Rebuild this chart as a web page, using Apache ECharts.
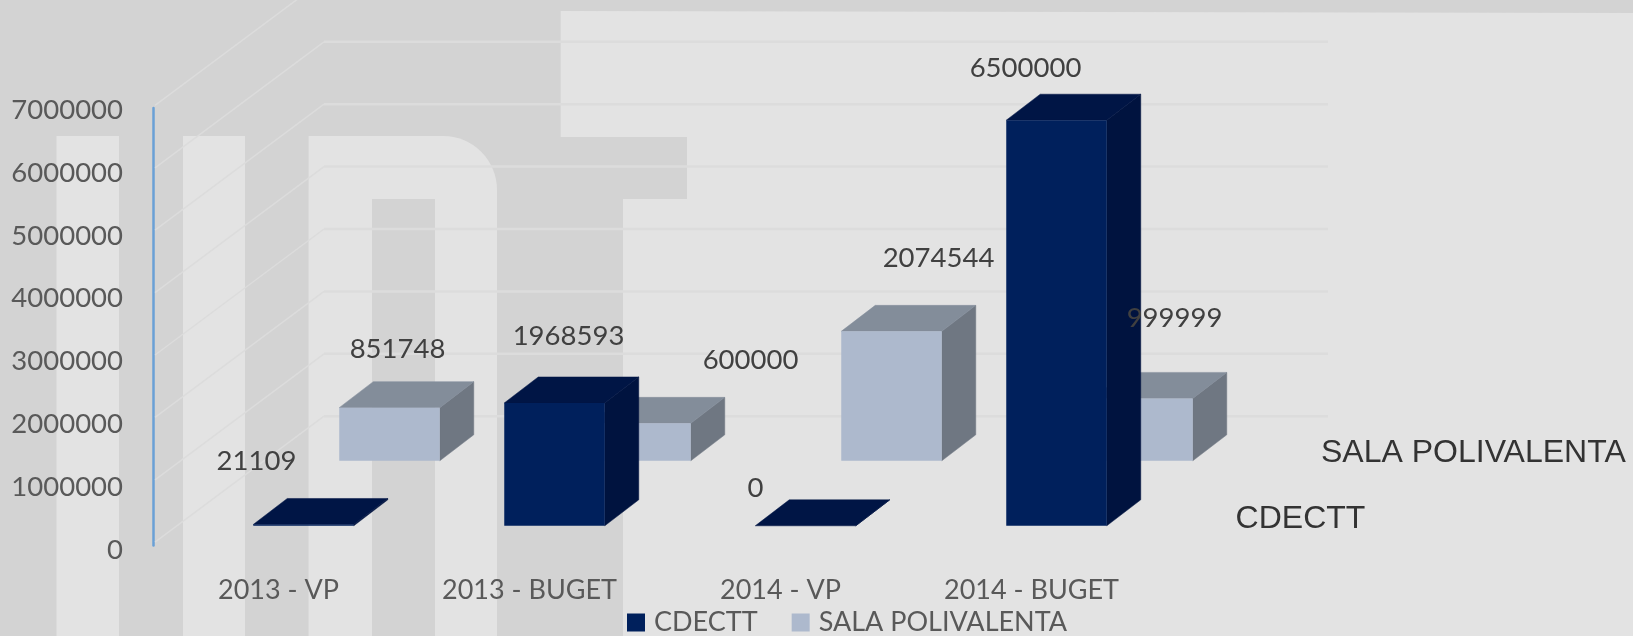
<!DOCTYPE html>
<html><head><meta charset="utf-8">
<style>html,body{margin:0;padding:0;background:#d3d3d3}#c{width:1633px;height:636px}</style>
<script src="https://cdn.jsdelivr.net/npm/echarts@6/dist/echarts.min.js"></script>
</head><body><div id="c"></div>
<script>
var categories = ['2013 - VP', '2013 - BUGET', '2014 - VP', '2014 - BUGET'];
var cdecttValues = [21109, 1968593, 0, 6500000];
var salaValues = [851748, 600000, 2074544, 999999];
var wallTicks = [1000000, 2000000, 3000000, 4000000, 5000000, 6000000, 7000000, 8000000];
var seriesNames = ['CDECTT', 'SALA POLIVALENTA'];

// Layout constants for the pseudo-3D projection (pixels)
var barW = 100.5, depthX = 34, depthY = 26;
var row = [{dx: 25, dy: 0}, {dx: 111, dy: -65}];
var pal = [
  {front: '#00205c', side: '#00133f', top: '#001545'},
  {front: '#adb9cd', side: '#6f7782', top: '#838d9a'}
];
var labelNudge = [
  [[-47, -63], [14, -67], [-50, -38], [-31, -52]],
  [[8, -59], [110, -63], [47, -73], [32, -80]]
];
var font = 'Lato, "Open Sans", sans-serif';

function poly(points, fill) {
  return {type: 'polygon', shape: {points: points}, style: {fill: fill, stroke: fill, lineWidth: 0.5}};
}
function barRenderer(r) {
  return function (params, api) {
    var cat = api.value(0), top = api.coord([cat, api.value(1)]), base = api.coord([cat, 0]);
    var x0 = base[0] + row[r].dx - barW / 2, x1 = x0 + barW;
    var yb = base[1] + row[r].dy, yt = top[1] + row[r].dy;
    var p = pal[r], kids = [];
    kids.push(poly([[x1, yb], [x1 + depthX, yb - depthY], [x1 + depthX, yt - depthY], [x1, yt]], p.side));
    kids.push(poly([[x0, yt], [x1, yt], [x1 + depthX, yt - depthY], [x0 + depthX, yt - depthY]], p.top));
    if (yb - yt > 0.5) kids.push({type: 'rect', shape: {x: x0, y: yt, width: barW, height: yb - yt}, style: {fill: p.front}});
    return {type: 'group', children: kids};
  };
}
function labelRenderer(params, api) {
  var cat = api.value(0), r = api.value(2), c = api.coord([cat, api.value(1)]);
  var n = labelNudge[r][cat];
  return {type: 'text', style: {
    text: String(api.value(1)), x: c[0] + row[r].dx + n[0], y: c[1] + row[r].dy + n[1],
    fill: '#404040', font: '27.5px ' + font, align: 'center', verticalAlign: 'middle'
  }};
}
function wallRenderer(params, api) {
  var c = api.coord([0, api.value(0)]);
  var yb = c[1] - 47.2;
  return {type: 'group', children: [
    {type: 'line', shape: {x1: 155, y1: yb + 126, x2: 324, y2: yb}, style: {stroke: '#dcdcdc', lineWidth: 1.5}},
    {type: 'line', shape: {x1: 324, y1: yb, x2: 1328, y2: yb}, style: {stroke: '#dcdcdc', lineWidth: 2.5}}
  ]};
}
var labelData = [];
cdecttValues.forEach(function (v, i) { labelData.push([i, v, 0]); });
salaValues.forEach(function (v, i) { labelData.push([i, v, 1]); });

var light = '#e3e3e3', gray = '#d3d3d3';
function rect(x, y, w, h, fill, r) {
  return {type: 'rect', z: 0, silent: true, shape: {x: x, y: y, width: w, height: h, r: r || 0}, style: {fill: fill}};
}
var chart = echarts.init(document.getElementById('c'), null, {renderer: 'canvas'});
chart.setOption({
  animation: false,
  backgroundColor: gray,
  graphic: {elements: [
    rect(56.5, 136, 62.5, 500, light),
    rect(183, 136, 62, 500, light),
    rect(308.6, 136, 188.4, 500, light, [0, 54, 0, 0]),
    rect(372, 199, 63, 437, gray),
    {type: 'polygon', z: 0, silent: true, shape: {points: [[560.7, 11], [1633, 13], [1633, 636], [623, 636], [623, 199], [687, 199], [687, 137], [560.7, 137]]}, style: {fill: light}},
    {type: 'text', z: 10, silent: true, style: {text: seriesNames[1], x: 1321, y: 453, fill: '#333333', font: '32px "Liberation Sans", Arial, sans-serif', verticalAlign: 'middle'}},
    {type: 'text', z: 10, silent: true, style: {text: seriesNames[0], x: 1235.6, y: 519, fill: '#333333', font: '32px "Liberation Sans", Arial, sans-serif', verticalAlign: 'middle'}}
  ]},
  legend: {
    data: seriesNames, left: 627, top: 609, padding: 0, icon: 'rect', itemWidth: 18, itemHeight: 18, itemGap: 34,
    textStyle: {color: '#595959', fontFamily: font, fontSize: 27, padding: [0, 0, 0, 4]}
  },
  grid: [
    {left: 153, width: 1004, top: 89, height: 436.8},
    {left: 153, width: 1004, top: 110, height: 440},
    {left: 153, width: 1004, top: 108, height: 437.6}
  ],
  xAxis: [
    {gridIndex: 0, type: 'category', data: categories, axisLine: {show: false}, axisTick: {show: false},
     axisLabel: {color: '#595959', fontFamily: font, fontSize: 27, margin: 51, interval: 0}},
    {gridIndex: 1, type: 'category', show: false, data: categories},
    {gridIndex: 2, type: 'category', show: false, data: categories}
  ],
  yAxis: [
    {gridIndex: 0, type: 'value', min: 0, max: 7000000, interval: 1000000, show: false},
    {gridIndex: 1, type: 'value', min: 0, max: 7000000, interval: 1000000, axisLine: {show: false}, axisTick: {show: false}, splitLine: {show: false},
     axisLabel: {color: '#595959', fontFamily: font, fontSize: 27.5, margin: 30, formatter: function (v) { return String(v); }}},
    {gridIndex: 2, type: 'value', min: 0, max: 7000000, interval: 7000000, axisLine: {show: true, lineStyle: {color: '#6aa0d6', width: 2.5}}, axisTick: {show: false}, splitLine: {show: false}, axisLabel: {show: false}}
  ],
  series: [
    {name: 'wall', type: 'custom', xAxisIndex: 0, yAxisIndex: 0, z: 1, silent: true, clip: false, data: wallTicks.map(function (t) { return [t]; }), encode: {y: 0}, renderItem: wallRenderer},
    {name: seriesNames[1], type: 'custom', xAxisIndex: 0, yAxisIndex: 0, z: 2, clip: false, itemStyle: {color: pal[1].front}, data: salaValues.map(function (v, i) { return [i, v]; }), encode: {x: 0, y: 1}, renderItem: barRenderer(1)},
    {name: seriesNames[0], type: 'custom', xAxisIndex: 0, yAxisIndex: 0, z: 3, clip: false, itemStyle: {color: pal[0].front}, data: cdecttValues.map(function (v, i) { return [i, v]; }), encode: {x: 0, y: 1}, renderItem: barRenderer(0)},
    {name: 'labels', type: 'custom', xAxisIndex: 0, yAxisIndex: 0, z: 4, silent: true, clip: false, data: labelData, encode: {x: 0, y: 1}, renderItem: labelRenderer}
  ]
});
</script></body></html>
